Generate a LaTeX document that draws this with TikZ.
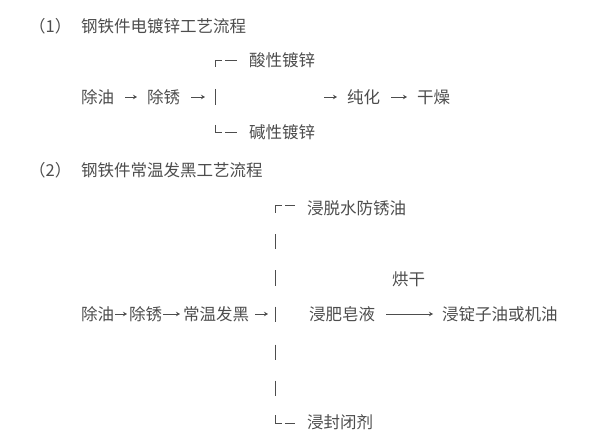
\documentclass[tikz,border=0pt]{standalone}
\usepackage{fontspec}
\newfontfamily\cjk{Noto Sans CJK SC}
\usepackage{tikz}
\usetikzlibrary{arrows.meta,positioning}
\definecolor{ink}{HTML}{4D4D4D}

\begin{document}
\begin{tikzpicture}[
    x=1bp, y=-1bp,
    txt/.style={anchor=west, inner sep=0pt, text=ink, font=\cjk\fontsize{16.5bp}{19bp}\selectfont},
    ln/.style={draw=ink, line width=0.9bp},
    arr/.style={-{Stealth[length=4bp, width=4.5bp]}, draw=ink, line width=0.9bp}
]
\useasboundingbox (0,0) rectangle (595,439);

% (1) zinc plating
\node[txt] (n1) at (29,26) {（1）};
\node[txt] (t1) at (81,26) {钢铁件电镀锌工艺流程};
\node[txt] (a1) at (81,97) {除油};
\node[txt] (a2) at (147,97) {除锈};
\node[txt] (acid) at (249,60) {酸性镀锌};
\node[txt] (alk) at (249,132) {碱性镀锌};
\node[txt] (pas) at (347,97) {纯化};
\node[txt] (dry) at (417,97) {干燥};
\coordinate (j1) at (215,97);
\coordinate (m1) at (313,97);

\draw[ln] (215,89) -- (215,105);
\draw[ln] (215,67) |- (222,60) (225,60) -- (237,60);
\draw[ln] (215,125) |- (222,132) (225,132) -- (237,132);

\foreach \a/\b in {a1/a2, a2/j1, m1/pas, pas/dry}
  \draw[arr, shorten <=11bp, shorten >=10bp] (\a) -- (\b);

% (2) blackening
\node[txt] (n2) at (29,170) {（2）};
\node[txt] (t2) at (81,170) {钢铁件常温发黑工艺流程};
\node[txt] (b1) at (81,314) {除油};
\node[txt] (b2) at (129,314) {除锈};
\node[txt] (b3) at (183,314) {常温发黑};
\coordinate (j2) at (275,314);
\node[txt] (soak1) at (307,208) {浸脱水防锈油};
\node[txt] (soak2) at (309,314) {浸肥皂液};
\node[txt] (seal) at (307,422) {浸封闭剂};
\node[txt] (oil) at (442,314) {浸锭子油或机油};

\foreach \y in {242,278,314,352,388}
  \draw[ln] (275,\y-7.5) -- (275,\y+7.5);
\draw[ln] (275,213) |- (282,205) (285,205) -- (295,205);
\draw[ln] (275,415) |- (282,423) (285,423) -- (295,423);

\foreach \a/\b/\s/\e in {b1/b2/1/2, b2/b3/1/3, b3/j2/6/7}
  \draw[arr, shorten <=\s bp, shorten >=\e bp] (\a) -- (\b);
\draw[arr, shorten <=11bp, shorten >=9bp] (soak2) -- node[txt, above=27bp] (bake) {烘干} (oil);
\end{tikzpicture}
\end{document}
